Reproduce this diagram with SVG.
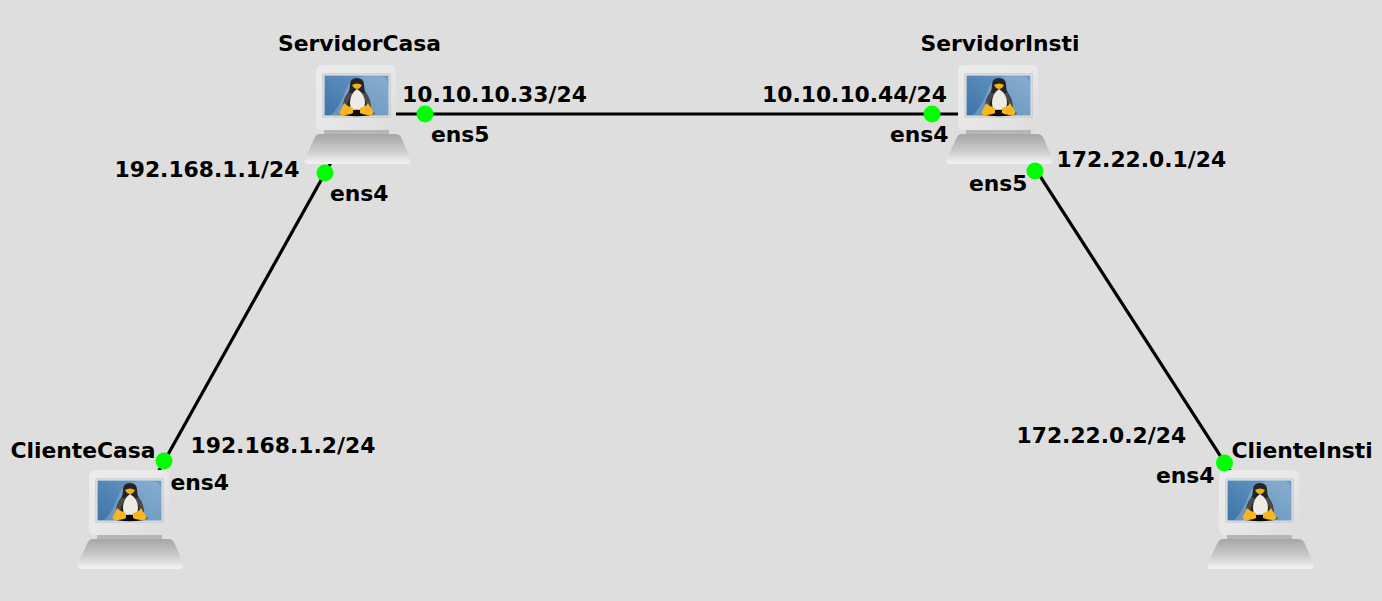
<svg xmlns="http://www.w3.org/2000/svg" width="1382" height="601" viewBox="0 0 1382 601">
<style>
text{font-family:"DejaVu Sans",sans-serif;font-weight:700;font-size:21.85px;fill:#000}
.link{stroke:#000;stroke-width:3.2;fill:none}
.port{fill:#0f0}
</style>
<defs>
<linearGradient id="mon" x1="0" y1="0" x2="1" y2="1"><stop offset="0" stop-color="#ececec"/><stop offset="0.5" stop-color="#e8e8e8"/><stop offset="1" stop-color="#dcdcdc"/></linearGradient>
<linearGradient id="base" x1="0" y1="0" x2="0" y2="1"><stop offset="0" stop-color="#a6a6a6"/><stop offset="0.55" stop-color="#cacaca"/><stop offset="1" stop-color="#f4f4f4"/></linearGradient>
<linearGradient id="scr" x1="0" y1="1" x2="1" y2="0"><stop offset="0" stop-color="#3f74a8"/><stop offset="1" stop-color="#6a9bc6"/></linearGradient>
<symbol id="pc" overflow="visible">
<rect x="-34" y="14" width="65" height="8" fill="#b6b6b6"/>
<path d="M-38 20 H37 Q42 20 44 25 L52 44 Q54 50 48 50 H-49 Q-55 50 -53 44 L-44 25 Q-42 20 -38 20 Z" fill="url(#base)"/>
<rect x="-42" y="-49" width="80" height="65" rx="6" fill="url(#mon)"/>
<rect x="-35" y="-40" width="67" height="43" fill="#f6f6f6" stroke="#b4b4b4" stroke-width="0.8"/>
<rect x="-33.500" y="-38.500" width="64" height="40" fill="url(#scr)"/>
<path d="M-27 1 Q-19 -6 -13 -22 Q-8 -38 10 -38 H22 Q30 -38 30 -28 V1 Z" fill="#fff" opacity="0.2"/>
<path d="M-8 -29 Q-8 -36 -1 -36 Q6 -36 6 -29 Q6 -24 8 -21 Q13 -15 12 -5 L-15 -5 Q-15 -15 -10 -21 Q-8 -24 -8 -29 Z" fill="#242424"/>
<path d="M-9 -22 Q-15 -15 -15 -7 L-11 -7 Q-10 -15 -5 -20 Z M7 -22 Q13 -15 13 -7 L9 -7 Q8 -15 3 -20 Z" fill="#4a4a4a"/>
<path d="M-1 -25 Q-8 -20 -8 -11 Q-8 -3 -1 -3 Q7 -3 7 -11 Q7 -20 -1 -25 Z" fill="#ecebe4"/>
<path d="M-6 -29 Q-1 -32 4 -29 Q2 -25 -1 -25 Q-4 -25 -6 -29 Z" fill="#f2b01a"/>
<ellipse cx="-1" cy="-1" rx="17.500" ry="3.200" fill="#0c0c0c"/>
<path d="M-14 -11 Q-10 -7 -5 -6 L-5 -1 Q-9 1 -16 1 Q-20 0 -18 -3 Q-15 -7 -14 -11 Z" fill="#f9b51b"/>
<path d="M10 -11 Q8 -7 2 -6 L2 -1 Q6 1 13 1 Q17 0 15 -3 Q12 -7 10 -11 Z" fill="#f9b51b"/>
</symbol>
</defs>
<rect width="1382" height="601" fill="#dedede"/>
<g id="connectors">
<line class="link" x1="358" y1="114" x2="1000" y2="114"/>
<line class="link" x1="358" y1="114" x2="132" y2="519"/>
<line class="link" x1="1000" y1="114" x2="1261" y2="519"/>
</g>
<g id="ServidorCasa"><use href="#pc" x="358" y="114"/><text x="359.500" y="51" text-anchor="middle">ServidorCasa</text></g>
<g id="ServidorInsti"><use href="#pc" x="1000" y="114"/><text x="1000" y="51" text-anchor="middle">ServidorInsti</text></g>
<g id="ClienteCasa"><use href="#pc" x="131" y="519"/><text x="83" y="458" text-anchor="middle">ClienteCasa</text></g>
<g id="ClienteInsti"><use href="#pc" x="1261" y="519"/><text x="1302" y="458" text-anchor="middle">ClienteInsti</text></g>
<g id="ports">
<circle class="port" cx="425" cy="114" r="8.500"/>
<circle class="port" cx="932" cy="114" r="8.500"/>
<circle class="port" cx="325" cy="173" r="8.500"/>
<circle class="port" cx="1035" cy="171" r="8.500"/>
<circle class="port" cx="164" cy="461" r="8.500"/>
<circle class="port" cx="1224.500" cy="463" r="8.500"/>
</g>
<g id="labels">
<text x="402" y="102">10.10.10.33/24</text>
<text x="431" y="142">ens5</text>
<text x="762" y="102">10.10.10.44/24</text>
<text x="890" y="142">ens4</text>
<text x="114.500" y="177">192.168.1.1/24</text>
<text x="330" y="201">ens4</text>
<text x="1056.500" y="167">172.22.0.1/24</text>
<text x="969" y="191">ens5</text>
<text x="190.500" y="453">192.168.1.2/24</text>
<text x="170.500" y="490">ens4</text>
<text x="1016.500" y="443">172.22.0.2/24</text>
<text x="1156" y="483">ens4</text>
</g>
</svg>
